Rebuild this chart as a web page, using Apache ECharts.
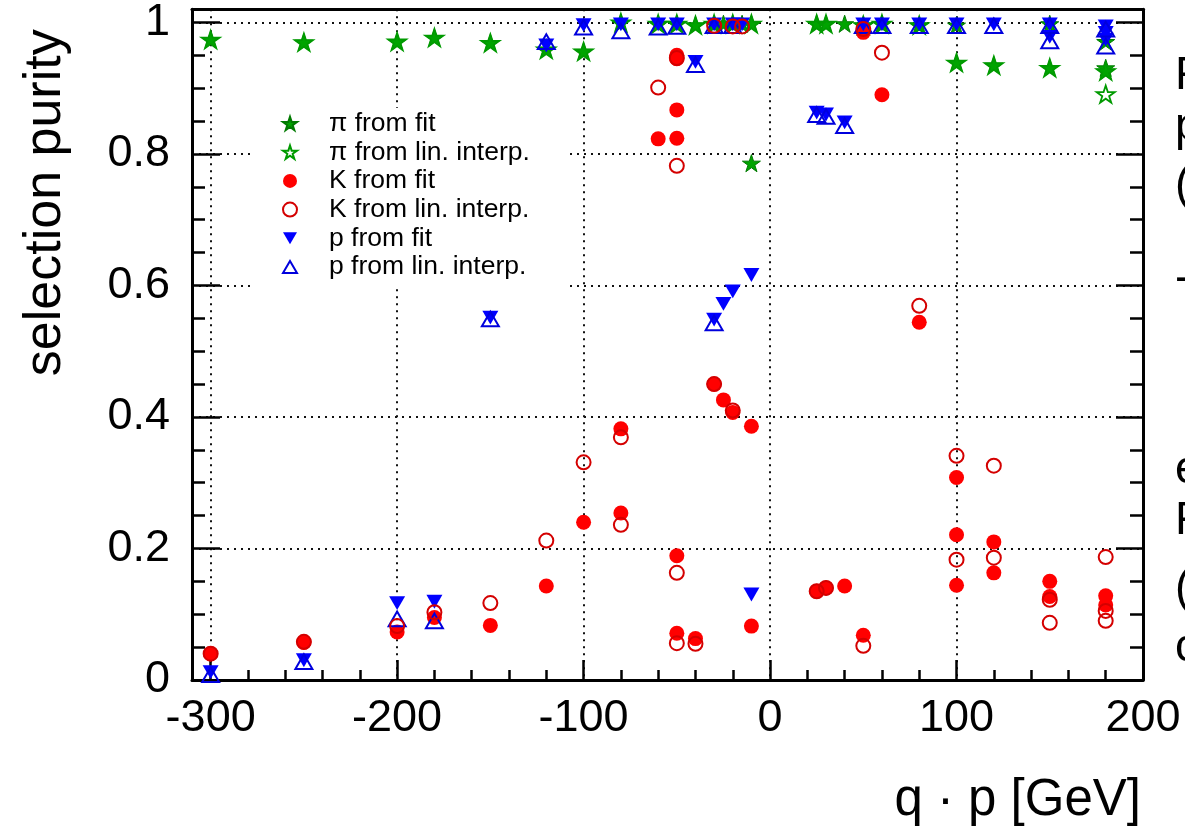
<!DOCTYPE html>
<html><head><meta charset="utf-8">
<script src="https://cdn.jsdelivr.net/npm/echarts@6/dist/echarts.min.js"></script>
<style>html,body{margin:0;padding:0;background:#fff;overflow:hidden}#c{width:1185px;height:826px}</style>
</head><body><div id="c"></div>
<script>
// ---- data (x = q·p [GeV], y = selection purity) ----
const piFit = [[-300,0.974],[-250,0.970],[-200,0.971],[-180,0.977],[-150,0.969],[-120,0.959],[-100,0.956],[-80,1.0],[-60,0.998],[-50,0.998],[-40,0.996],[-30,0.998],[-25,0.998],[-20,0.998],[-15,0.998],[-10,0.998],[-10,0.786],[25,0.998],[30,0.998],[40,0.998],[50,0.996],[60,0.998],[80,0.996],[100,0.996],[100,0.939],[120,0.935],[150,0.998],[150,0.931],[180,0.971],[180,0.931],[180,0.926]];
const piInterp = [[-300,0.974],[-250,0.970],[-200,0.971],[-180,0.977],[-150,0.969],[-120,0.959],[-100,0.956],[-80,1.0],[-60,0.998],[-50,0.998],[-40,0.996],[-30,0.998],[-20,0.998],[-10,0.998],[25,0.998],[30,0.998],[50,0.996],[60,0.998],[80,0.996],[100,0.939],[120,0.935],[150,0.931],[180,0.926],[180,0.891]];
const kFit = [[-300,0.040],[-250,0.057],[-200,0.073],[-180,0.095],[-150,0.083],[-120,0.143],[-100,0.240],[-80,0.254],[-80,0.382],[-60,0.823],[-50,0.950],[-50,0.945],[-50,0.867],[-50,0.824],[-50,0.189],[-50,0.071],[-40,0.063],[-30,0.450],[-25,0.426],[-20,0.407],[-10,0.386],[-10,0.082],[25,0.135],[30,0.140],[40,0.143],[50,0.985],[50,0.068],[60,0.890],[80,0.544],[100,0.308],[100,0.221],[100,0.144],[120,0.210],[120,0.163],[150,0.150],[150,0.127],[180,0.128],[180,0.114]];
const kInterp = [[-300,0.040],[-250,0.058],[-200,0.082],[-180,0.103],[-150,0.117],[-120,0.212],[-100,0.331],[-80,0.369],[-80,0.236],[-60,0.901],[-50,0.946],[-50,0.782],[-50,0.163],[-50,0.056],[-40,0.055],[-30,0.995],[-30,0.450],[-20,0.994],[-20,0.410],[-15,0.994],[25,0.135],[30,0.140],[50,0.990],[50,0.052],[60,0.954],[80,0.569],[100,0.341],[100,0.183],[120,0.326],[120,0.186],[150,0.122],[150,0.087],[180,0.187],[180,0.105],[180,0.090]];
const pFit = [[-300,0.012],[-250,0.030],[-200,0.117],[-180,0.119],[-150,0.551],[-120,0.965],[-100,0.996],[-80,0.997],[-60,0.997],[-50,0.997],[-40,0.940],[-30,0.997],[-30,0.548],[-25,0.572],[-20,0.997],[-20,0.591],[-15,0.997],[-10,0.616],[-10,0.130],[25,0.863],[30,0.860],[40,0.848],[50,0.997],[60,0.997],[80,0.997],[100,0.997],[120,0.997],[150,0.997],[150,0.978],[180,0.994],[180,0.984],[180,0.974]];
const pInterp = [[-300,0.008],[-250,0.028],[-200,0.093],[-180,0.090],[-150,0.549],[-120,0.971],[-100,0.993],[-80,0.987],[-60,0.993],[-50,0.994],[-40,0.936],[-30,0.995],[-30,0.543],[-20,0.995],[25,0.860],[30,0.857],[40,0.843],[50,0.995],[60,0.995],[80,0.995],[100,0.995],[120,0.995],[150,0.995],[150,0.972],[180,0.990],[180,0.964]];

const seriesNames = ['\u03c0 from fit','\u03c0 from lin. interp.','K from fit','K from lin. interp.','p from fit','p from lin. interp.'];
const xTicksMajor = [-300,-200,-100,0,100,200];
const xTicksMinor = [-280,-260,-240,-220,-180,-160,-140,-120,-80,-60,-40,-20,20,40,60,80,120,140,160,180];
const yTicksMajor = [0,0.2,0.4,0.6,0.8,1];
const yTicksMinor = [0.05,0.1,0.15,0.25,0.3,0.35,0.45,0.5,0.55,0.65,0.7,0.75,0.85,0.9,0.95];
const xTitle = 'q \u00b7 p [GeV]';
const yTitle = 'selection purity';

// ---- styling ----
const FONT = '"Liberation Sans", Arial, Helvetica, sans-serif';
const STAR = 'path://M100,0L122.45,69.1L195.1,69.1L136.3,111.8L158.8,180.9L100,138.2L41.2,180.9L63.7,111.8L4.9,69.1L77.55,69.1Z';
const TDOWN = 'path://M0,0L20,0L10,17.3Z';
const TUP = 'path://M10,0L20,17.3L0,17.3Z';
const GREEN = '#00a400', RED = '#ff0000', BLUE = '#0000ff';
const tickLine = {color:'#000', width:2.5};
const dotted = {color:'#111', width:2, type:[2,5]};

function mk(name, data, symbol, size, fill, stroke, bw, z) {
  return {name, type:'scatter', data, symbol, symbolSize:size, symbolKeepAspect:true,
    xAxisIndex:0, yAxisIndex:0, silent:true, emphasis:{disabled:true}, z:z,
    itemStyle:{color:fill, borderColor:stroke, borderWidth:bw, opacity:1}};
}
function axisBase(pos, min, max) {
  return {type:'value', position:pos, min:min, max:max,
    axisLine:{show:false, onZero:false}, axisLabel:{show:false}, splitLine:{show:false}, axisTick:{show:false}};
}

const xMain = Object.assign(axisBase('bottom',-310,200), {
  splitNumber:5,
  axisLine:{show:true, onZero:false, lineStyle:{color:'#000', width:3}},
  axisTick:{show:true, inside:true, length:20, customValues:xTicksMajor, lineStyle:tickLine},
  axisLabel:{show:true, customValues:xTicksMajor, margin:16, fontSize:45, fontFamily:FONT, color:'#000'},
  splitLine:{show:true, lineStyle:dotted},
  name:xTitle, nameLocation:'end', nameGap:0,
  nameTextStyle:{fontSize:51, fontFamily:FONT, color:'#000', align:'right', verticalAlign:'top', padding:[95,2,0,0]}
});
const xMinor = Object.assign(axisBase('bottom',-310,200), {
  axisTick:{show:true, inside:true, length:10, customValues:xTicksMinor, lineStyle:tickLine}
});
const xTop = Object.assign(axisBase('top',-310,200), {
  axisLine:{show:true, onZero:false, lineStyle:{color:'#000', width:3}}
});
const yMain = Object.assign(axisBase('left',0,1.02), {
  interval:0.2,
  axisLine:{show:true, onZero:false, lineStyle:{color:'#000', width:3}},
  axisTick:{show:true, inside:true, length:28, customValues:yTicksMajor, lineStyle:tickLine},
  axisLabel:{show:true, customValues:yTicksMajor, margin:22, fontSize:45, fontFamily:FONT, color:'#000'},
  splitLine:{show:true, lineStyle:dotted},
  name:yTitle, nameLocation:'end', nameGap:0, nameRotate:90,
  nameTextStyle:{fontSize:52, fontFamily:FONT, color:'#000', align:'right', verticalAlign:'bottom', padding:[0,20,120,0]}
});
const yMinorL = Object.assign(axisBase('left',0,1.02), {
  axisTick:{show:true, inside:true, length:13, customValues:yTicksMinor, lineStyle:tickLine}
});
const yRight = Object.assign(axisBase('right',0,1.02), {
  axisLine:{show:true, onZero:false, lineStyle:{color:'#000', width:3}},
  axisTick:{show:true, inside:true, length:27, customValues:yTicksMajor, lineStyle:tickLine}
});
const yMinorR = Object.assign(axisBase('right',0,1.02), {
  axisTick:{show:true, inside:true, length:13, customValues:yTicksMinor, lineStyle:tickLine}
});

const sideLetters = [['F',80],['p',131],['(',190],['-',283],['e',474],['F',525],['(',593],['c',652]];

const option = {
  animation:false,
  backgroundColor:'#fff',
  grid:{left:192, right:42, top:6, bottom:144.5, containLabel:false},
  xAxis:[xMain, xMinor, xTop],
  yAxis:[yMain, yMinorL, yRight, yMinorR],
  legend:{
    orient:'vertical', left:250, top:108, padding:[2,36,8,32], backgroundColor:'#fff',
    itemWidth:14, itemHeight:14, itemGap:1.7, selectedMode:false, z:5,
    data:seriesNames,
    textStyle:{fontSize:26.5, fontFamily:FONT, color:'#000', padding:[0,0,0,27]}
  },
  graphic: sideLetters.map(function(d){
    return {type:'text', left:1175, top:d[1]-27, silent:true,
      style:{text:d[0], font:'46px ' + FONT, fill:'#000'}};
  }),
  series:[
    mk(seriesNames[0], piFit, STAR, 18, GREEN, '#007a00', 1, 3),
    mk(seriesNames[1], piInterp, STAR, 18, 'transparent', '#009a00', 1.8, 4),
    mk(seriesNames[2], kFit, 'circle', 15, RED, RED, 0, 5),
    mk(seriesNames[4], pFit, TDOWN, 16, BLUE, BLUE, 0, 6),
    mk(seriesNames[5], pInterp, TUP, 17, 'transparent', '#0000dd', 2, 7),
    mk(seriesNames[3], kInterp, 'circle', 14, 'transparent', '#d40000', 2, 8)
  ]
};
const chart = echarts.init(document.getElementById('c'), null, {renderer:'canvas'});
chart.setOption(option);
</script>
</body></html>
